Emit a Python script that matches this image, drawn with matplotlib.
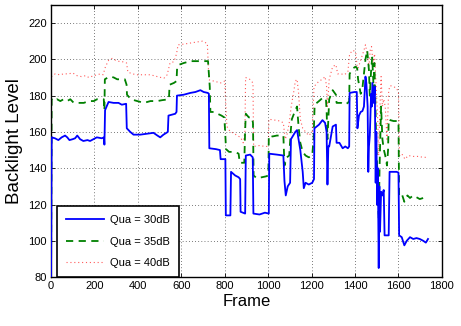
import matplotlib
matplotlib.use("Agg")
import matplotlib.pyplot as plt

plt.rcParams['font.family'] = ['Liberation Sans', 'DejaVu Sans']

# Qua = 30dB (blue)
frames_30 = [0, 3, 18, 34, 49, 65, 75, 85, 100, 111, 121, 134, 149, 168, 180, 195, 211, 234, 244, 246,
             249, 265, 288, 311, 326, 346, 349, 365, 380, 411, 442, 472, 490, 503, 518, 538, 541, 572,
             578, 580, 611, 642, 665, 688, 703, 722, 727, 729, 760, 778, 781, 803, 805, 826, 829, 848,
             864, 871, 873, 894, 897, 917, 929, 932, 960, 985, 1003, 1005, 1040, 1070, 1075, 1081, 1090,
             1101, 1105, 1125, 1133, 1140, 1148, 1159, 1164, 1172, 1187, 1203, 1211, 1213, 1234, 1250,
             1262, 1269, 1273, 1277, 1281, 1297, 1312, 1315, 1328, 1343, 1355, 1367, 1373, 1375, 1398,
             1408, 1411, 1418, 1426, 1434, 1441, 1448, 1452, 1458, 1461, 1464, 1468, 1474, 1477, 1480,
             1486, 1491, 1495, 1498, 1502, 1505, 1509, 1512, 1515, 1520, 1526, 1532, 1536, 1555, 1559,
             1592, 1600, 1603, 1615, 1627, 1638, 1653, 1668, 1683, 1698, 1714, 1726, 1736]
qua_30 = [75, 157, 156.5, 155.5, 157, 158, 157, 155.5, 156, 156.5, 158, 156, 155, 155.5, 155, 156, 157,
          156.5, 157, 153, 172, 176.5, 176, 176, 175, 175.5, 162, 160, 158.5, 158.5, 159, 159.5, 158,
          157, 158.5, 160, 169, 170, 171, 180, 180.5, 181.5, 182, 183, 182, 181.5, 181, 151, 150.5, 150,
          145, 145, 114, 114, 138, 136, 135, 134, 116, 115, 147, 147.5, 146, 115, 114.5, 115.5, 115, 148,
          147.5, 147, 133, 125, 130, 132, 156, 160, 161, 156, 150, 138, 129, 132, 131, 132, 134, 162,
          164, 166.5, 165, 160, 131, 152, 152, 163, 164, 154, 154, 151, 152, 151, 152, 181.5, 182, 182,
          162, 169, 171, 171.5, 174, 190.5, 187, 174, 138, 152, 158, 181, 174, 187, 176, 185, 132, 160,
          120, 140, 85, 130, 105, 127, 125, 128, 103, 103, 138, 138, 137.5, 103, 102, 97.5, 100, 102,
          101, 101.5, 101, 100, 99, 101]

# Qua = 35dB (green)
frames_35 = [0, 3, 15, 28, 43, 58, 74, 89, 105, 128, 151, 174, 197, 212, 228, 243, 246, 248, 262, 274,
             289, 305, 320, 340, 348, 350, 368, 397, 428, 458, 489, 512, 543, 546, 566, 578, 581, 589,
             612, 643, 674, 704, 723, 727, 731, 734, 752, 767, 785, 798, 802, 806, 820, 848, 864, 869,
             879, 890, 894, 897, 911, 925, 930, 933, 947, 970, 990, 1001, 1003, 1020, 1040, 1070, 1075,
             1086, 1097, 1105, 1109, 1125, 1133, 1140, 1148, 1159, 1172, 1187, 1203, 1209, 1214, 1234,
             1253, 1266, 1269, 1273, 1281, 1297, 1312, 1315, 1336, 1351, 1367, 1373, 1375, 1390, 1403,
             1410, 1414, 1426, 1433, 1441, 1448, 1456, 1464, 1468, 1474, 1479, 1483, 1486, 1489, 1494,
             1498, 1505, 1509, 1513, 1520, 1526, 1532, 1539, 1547, 1552, 1555, 1562, 1577, 1600, 1603,
             1615, 1627, 1641, 1653, 1668, 1683, 1698, 1714, 1732]
qua_35 = [70, 178, 177, 178, 177, 178, 177, 178, 176, 176, 176, 177, 177, 178, 178, 178, 172, 189, 190,
          190.5, 190, 189, 189, 189, 186, 180.5, 178, 177, 176, 177, 177, 177.5, 178, 186, 187, 188, 196,
          197, 198, 199, 199, 199, 199, 192, 185, 171, 171, 170, 169, 168, 160, 150.5, 149, 149, 148, 143,
          143, 143, 161, 170, 168, 168, 165, 136, 134.5, 135, 135.5, 136, 158, 157.5, 158, 158, 141.5,
          146, 147, 162, 167, 172, 174, 163, 154, 149, 147, 146, 147, 156, 175, 177, 179, 178, 172, 156,
          178, 183, 180.5, 176, 176, 175, 176, 177, 192, 195, 196, 195, 189, 181, 183, 192, 200, 205,
          194, 180, 194, 201, 190.5, 183, 198, 174, 152, 132, 112, 141, 174, 156, 150.5, 147, 141.5, 150,
          167, 166.5, 166, 166, 125, 126, 121.5, 125, 123.6, 125, 124, 123, 123.6, 122]

# Qua = 40dB (red)
frames_40 = [0, 4, 20, 40, 60, 80, 100, 120, 140, 160, 174, 197, 228, 240, 251, 266, 282, 305, 328, 348,
             354, 374, 397, 428, 458, 489, 520, 535, 548, 566, 578, 585, 612, 643, 674, 697, 720, 727,
             750, 781, 800, 805, 810, 826, 841, 857, 873, 885, 893, 896, 915, 930, 933, 960, 985, 1001,
             1003, 1031, 1055, 1070, 1078, 1086, 1097, 1106, 1117, 1125, 1133, 1140, 1148, 1159, 1172,
             1187, 1203, 1211, 1234, 1250, 1262, 1269, 1273, 1281, 1297, 1312, 1320, 1336, 1351, 1367,
             1375, 1390, 1403, 1411, 1426, 1441, 1448, 1456, 1464, 1470, 1476, 1483, 1490, 1498, 1505,
             1509, 1513, 1520, 1526, 1532, 1539, 1547, 1555, 1562, 1577, 1592, 1600, 1605, 1615, 1630,
             1645, 1668, 1691, 1714, 1732]
qua_40 = [184, 191, 192, 191.5, 192, 192, 192.5, 191, 190.5, 191, 190, 191, 192, 191.5, 196, 199.6, 200.5,
          199, 198.7, 198, 193, 192, 191.5, 191.5, 191.5, 190.5, 189.6, 191.5, 198, 198.7, 203, 208,
          208.4, 209, 209.6, 210, 208.7, 188.7, 188, 187, 188, 175, 163, 160, 159.4, 158, 157, 154, 160,
          190, 189, 187, 152, 152.5, 152, 152, 167, 166.5, 166, 165, 156, 158, 165, 174, 181.5, 188, 189,
          181.5, 167, 162, 160, 158, 160, 185, 188, 189, 190.5, 185, 174, 189, 196, 197, 192, 192, 191.5,
          193, 203, 205, 204, 194, 199.6, 205, 208, 203, 196, 205, 207, 198, 203, 183, 165, 147, 167,
          190.5, 174, 178, 174, 156, 183, 185.5, 185, 184, 181.5, 147, 148, 145, 147, 146.5, 146.5, 146,
          146]

x_ticks = [0, 200, 400, 600, 800, 1000, 1200, 1400, 1600, 1800]
y_ticks = [80, 100, 120, 140, 160, 180, 200, 220]

fig = plt.figure(figsize=(4.61, 3.26), dpi=100)
ax = fig.add_axes([0.1106, 0.150, 0.848, 0.835])

ax.plot(frames_30, qua_30, color='#0000ff', lw=1.3, label='Qua = 30dB', zorder=3)
ax.plot(frames_35, qua_35, color='#008000', lw=1.3, ls=(0, (4, 3)), label='Qua = 35dB', zorder=2)
ax.plot(frames_40, qua_40, color='#ff3030', lw=0.8, ls=(0, (1, 2.5)), alpha=0.8,
        label='Qua = 40dB', zorder=1)

ax.set_xlim(0, 1800)
ax.set_ylim(80, 230)
ax.set_xticks(x_ticks)
ax.set_yticks(y_ticks)
ax.tick_params(direction='in', top=True, right=True, labelsize=8, length=3, width=0.6, pad=3)
ax.grid(True, color='black', ls=(0, (1, 3.5)), lw=0.5)
for s in ax.spines.values():
    s.set_linewidth(1.0)

ax.set_xlabel('Frame', fontsize=12, labelpad=2)
ax.set_ylabel('Backlight Level', fontsize=13.5, labelpad=4)

leg = ax.legend(loc='lower left', bbox_to_anchor=(0.015, 0.0), fontsize=8, handlelength=3.4,
                handletextpad=0.6, labelspacing=1.05, borderpad=0.8, borderaxespad=0,
                fancybox=False, framealpha=1)
leg.get_frame().set_edgecolor('black')
leg.get_frame().set_linewidth(1.2)

fig.savefig('out.png', dpi=100)
